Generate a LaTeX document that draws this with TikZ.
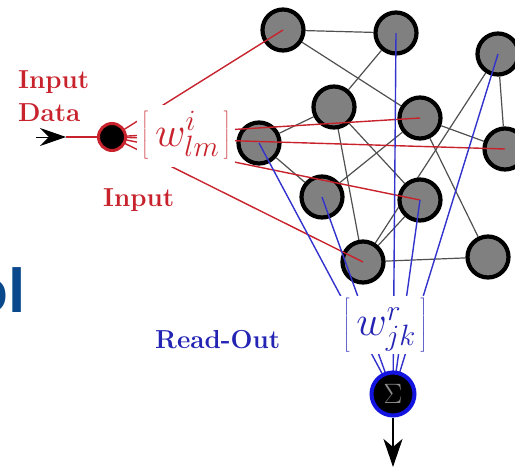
\RequirePackage{fix-cm}
\documentclass[tikz,border=0pt]{standalone}
\usepackage{fontspec}
\newfontfamily\slidefont{Liberation Sans}
\usetikzlibrary{arrows.meta}
\definecolor{inred}{RGB}{200,35,45}
\definecolor{roblue}{RGB}{35,35,180}
\definecolor{lnblue}{RGB}{50,50,205}
\definecolor{sigblue}{RGB}{20,20,225}
\definecolor{edgegray}{RGB}{80,80,80}
\definecolor{nodegray}{RGB}{128,128,128}
\definecolor{slideblue}{RGB}{10,72,140}
\pgfdeclarelayer{edges}
\pgfdeclarelayer{links}
\pgfdeclarelayer{front}
\pgfsetlayers{edges,main,links,front}
\newcommand{\wstrut}{\vrule height35pt depth15pt width0pt}
\begin{document}
\begin{tikzpicture}[x=1pt,y=-1pt,
  res/.style={circle,draw=black,fill=nodegray,line width=4.2pt,minimum size=41pt,inner sep=0pt},
  edge/.style={draw=edgegray,line width=1.2pt},
  inline/.style={draw=inred,line width=1.4pt},
  outline/.style={draw=lnblue,line width=1.4pt},
  lbl/.style={font=\fontsize{26}{33}\selectfont\bfseries,inner sep=0pt},
  wbox/.style={fill=white,inner sep=0pt,font=\fontsize{42}{50}\selectfont},
]
\useasboundingbox (0,0) rectangle (515,469);

% reservoir nodes
\node[res] (n1) at (283,30) {};
\node[res] (n2) at (396,33) {};
\node[res] (n3) at (498,54) {};
\node[res] (n4) at (334,107) {};
\node[res] (n5) at (420,118) {};
\node[res] (n6) at (259,143) {};
\node[res] (n7) at (505,149) {};
\node[res] (n8) at (322,197) {};
\node[res] (n9) at (420,200) {};
\node[res] (n10) at (363,262) {};
\node[res] (n11) at (488,257) {};

\begin{pgfonlayer}{front}
\node[circle,fill=black,draw=inred,line width=3pt,minimum size=27pt,inner sep=0pt] (inp) at (112,137) {};
\node[circle,fill=black,draw=sigblue,line width=4pt,minimum size=43pt,inner sep=0pt,text=black!45,font=\fontsize{28}{30}\selectfont] (sig) at (393,394) {$\Sigma$};
\node[wbox,minimum width=98pt,minimum height=62pt,text=inred] (wi) at (186,136) {$\left[\wstrut\mkern3mu w^{i}_{lm}\mkern2mu\right]$};
\node[wbox,minimum width=100pt,minimum height=58pt,text=roblue] (wr) at (385,325) {$\left[\wstrut\mkern3mu w^{r}_{jk}\mkern2mu\right]$};
\end{pgfonlayer}

% labels
\node[lbl,text=inred,align=left,anchor=north west] (indata) at (18,70) {Input\\Data};
\node[lbl,text=inred,anchor=base west] (inlbl) at (103,206) {Input};
\node[lbl,text=roblue,anchor=base west] (rolbl) at (155,348) {Read-Out};
\node[font=\slidefont\bfseries\fontsize{62}{62}\selectfont,text=slideblue,anchor=base west,inner sep=0pt] (frag) at (-30,312) {ol};

% reservoir edges
\begin{pgfonlayer}{edges}
\draw[edge] (n1) -- (n2);
\draw[edge] (n1) -- (n5);
\draw[edge] (n2) -- (n4);
\draw[edge] (n3) -- (n7);
\draw[edge] (n3) -- (n10);
\draw[edge] (n4) -- (n6);
\draw[edge] (n4) -- (n9);
\draw[edge] (n4) -- (n10);
\draw[edge] (n5) -- (n7);
\draw[edge] (n5) -- (n8);
\draw[edge] (n5) -- (n11);
\draw[edge] (n6) -- (n8);
\draw[edge] (n9) -- (n10);
\draw[edge] (n10) -- (n11);
\end{pgfonlayer}

% input and read-out links
\begin{pgfonlayer}{links}
\draw[inline] (inp.center) -- (n1.center);
\draw[inline] (inp.center) -- (n5.center);
\draw[inline] (inp.center) -- (n7.center);
\draw[inline] (inp.center) -- (n9.center);
\draw[inline] (inp.center) -- (n10.center);
\draw[outline] (n6.center) -- (sig.center);
\draw[outline] (n8.center) -- (sig.center);
\draw[outline] (n2.center) -- (sig.center);
\draw[outline] (n9.center) -- (sig.center);
\draw[outline] (n3.center) -- (sig.center);
\end{pgfonlayer}

% input arrow
\coordinate (a0) at (36,137);
\coordinate (a1) at (66,137);
\draw[inline] (a1) -- (inp);
\draw[line width=1pt,-{Stealth[length=26pt,width=18pt,inset=9pt]}] (a0) -- (a1);

% output arrow
\coordinate (out) at (393,467);
\draw[line width=2.5pt,-{Stealth[length=28pt,width=19pt,inset=8pt]}] (sig) -- (out);
\end{tikzpicture}
\end{document}
